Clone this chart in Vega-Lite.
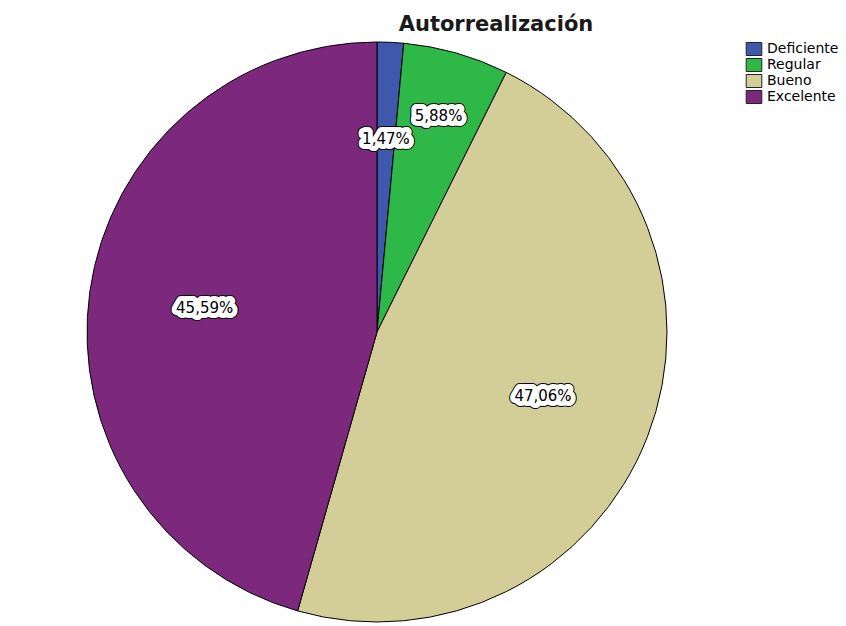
{
  "$schema": "https://vega.github.io/schema/vega-lite/v6.json",
  "width": 754,
  "height": 588,
  "autosize": {"type": "none"},
  "padding": {"top": 38, "left": 0, "right": 92, "bottom": 0},
  "background": "white",
  "title": {
    "text": "Autorrealización",
    "font": "DejaVu Sans",
    "fontSize": 21,
    "fontWeight": "bold",
    "color": "#1a1a1a",
    "anchor": "middle",
    "dx": 119,
    "offset": -14,
    "baseline": "alphabetic"
  },
  "data": {
    "values": [
      {"categoria": "Deficiente", "codigo": 1, "frecuencia": 1, "etiqueta": "1,47%"},
      {"categoria": "Regular", "codigo": 2, "frecuencia": 4, "etiqueta": "5,88%"},
      {"categoria": "Bueno", "codigo": 3, "frecuencia": 32, "etiqueta": "47,06%"},
      {"categoria": "Excelente", "codigo": 4, "frecuencia": 31, "etiqueta": "45,59%"}
    ]
  },
  "encoding": {
    "theta": {"field": "frecuencia", "type": "quantitative", "stack": true},
    "order": {"field": "codigo", "type": "quantitative"},
    "detail": {"field": "categoria", "type": "nominal"}
  },
  "layer": [
    {
      "mark": {"type": "arc", "outerRadius": 290, "stroke": "black", "strokeWidth": 1},
      "encoding": {
        "color": {
          "field": "categoria",
          "type": "nominal",
          "scale": {
            "domain": ["Deficiente", "Regular", "Bueno", "Excelente"],
            "range": ["#3E58AC", "#2EB848", "#D3CE97", "#7C287D"]
          },
          "legend": {
            "orient": "none",
            "legendX": 747,
            "legendY": 4,
            "title": null,
            "labelFont": "DejaVu Sans",
            "labelFontSize": 14,
            "labelColor": "black",
            "symbolType": "M-1.2,-1H1.2V1H-1.2Z",
            "symbolSize": 169,
            "symbolStrokeColor": "#222222",
            "symbolStrokeWidth": 1,
            "symbolOpacity": 1,
            "rowPadding": -2.5,
            "labelOffset": 6
          }
        }
      }
    },
    {
      "mark": {"type": "text", "font": "DejaVu Sans", "fontSize": 15, "fill": "black", "stroke": "black", "strokeWidth": 12, "strokeJoin": "round"},
      "encoding": {
        "text": {"field": "etiqueta", "type": "nominal"},
        "radius": {"field": "frecuencia", "type": "quantitative", "scale": {"type": "linear", "zero": false, "domain": [1, 4, 31, 32], "range": [193, 225, 174, 178]}}
      }
    },
    {
      "mark": {"type": "text", "font": "DejaVu Sans", "fontSize": 15, "fill": "white", "stroke": "white", "strokeWidth": 10, "strokeJoin": "round"},
      "encoding": {
        "text": {"field": "etiqueta", "type": "nominal"},
        "radius": {"field": "frecuencia", "type": "quantitative", "scale": {"type": "linear", "zero": false, "domain": [1, 4, 31, 32], "range": [193, 225, 174, 178]}}
      }
    },
    {
      "mark": {"type": "text", "font": "DejaVu Sans", "fontSize": 15, "fill": "black"},
      "encoding": {
        "text": {"field": "etiqueta", "type": "nominal"},
        "radius": {"field": "frecuencia", "type": "quantitative", "scale": {"type": "linear", "zero": false, "domain": [1, 4, 31, 32], "range": [193, 225, 174, 178]}}
      }
    }
  ]
}
